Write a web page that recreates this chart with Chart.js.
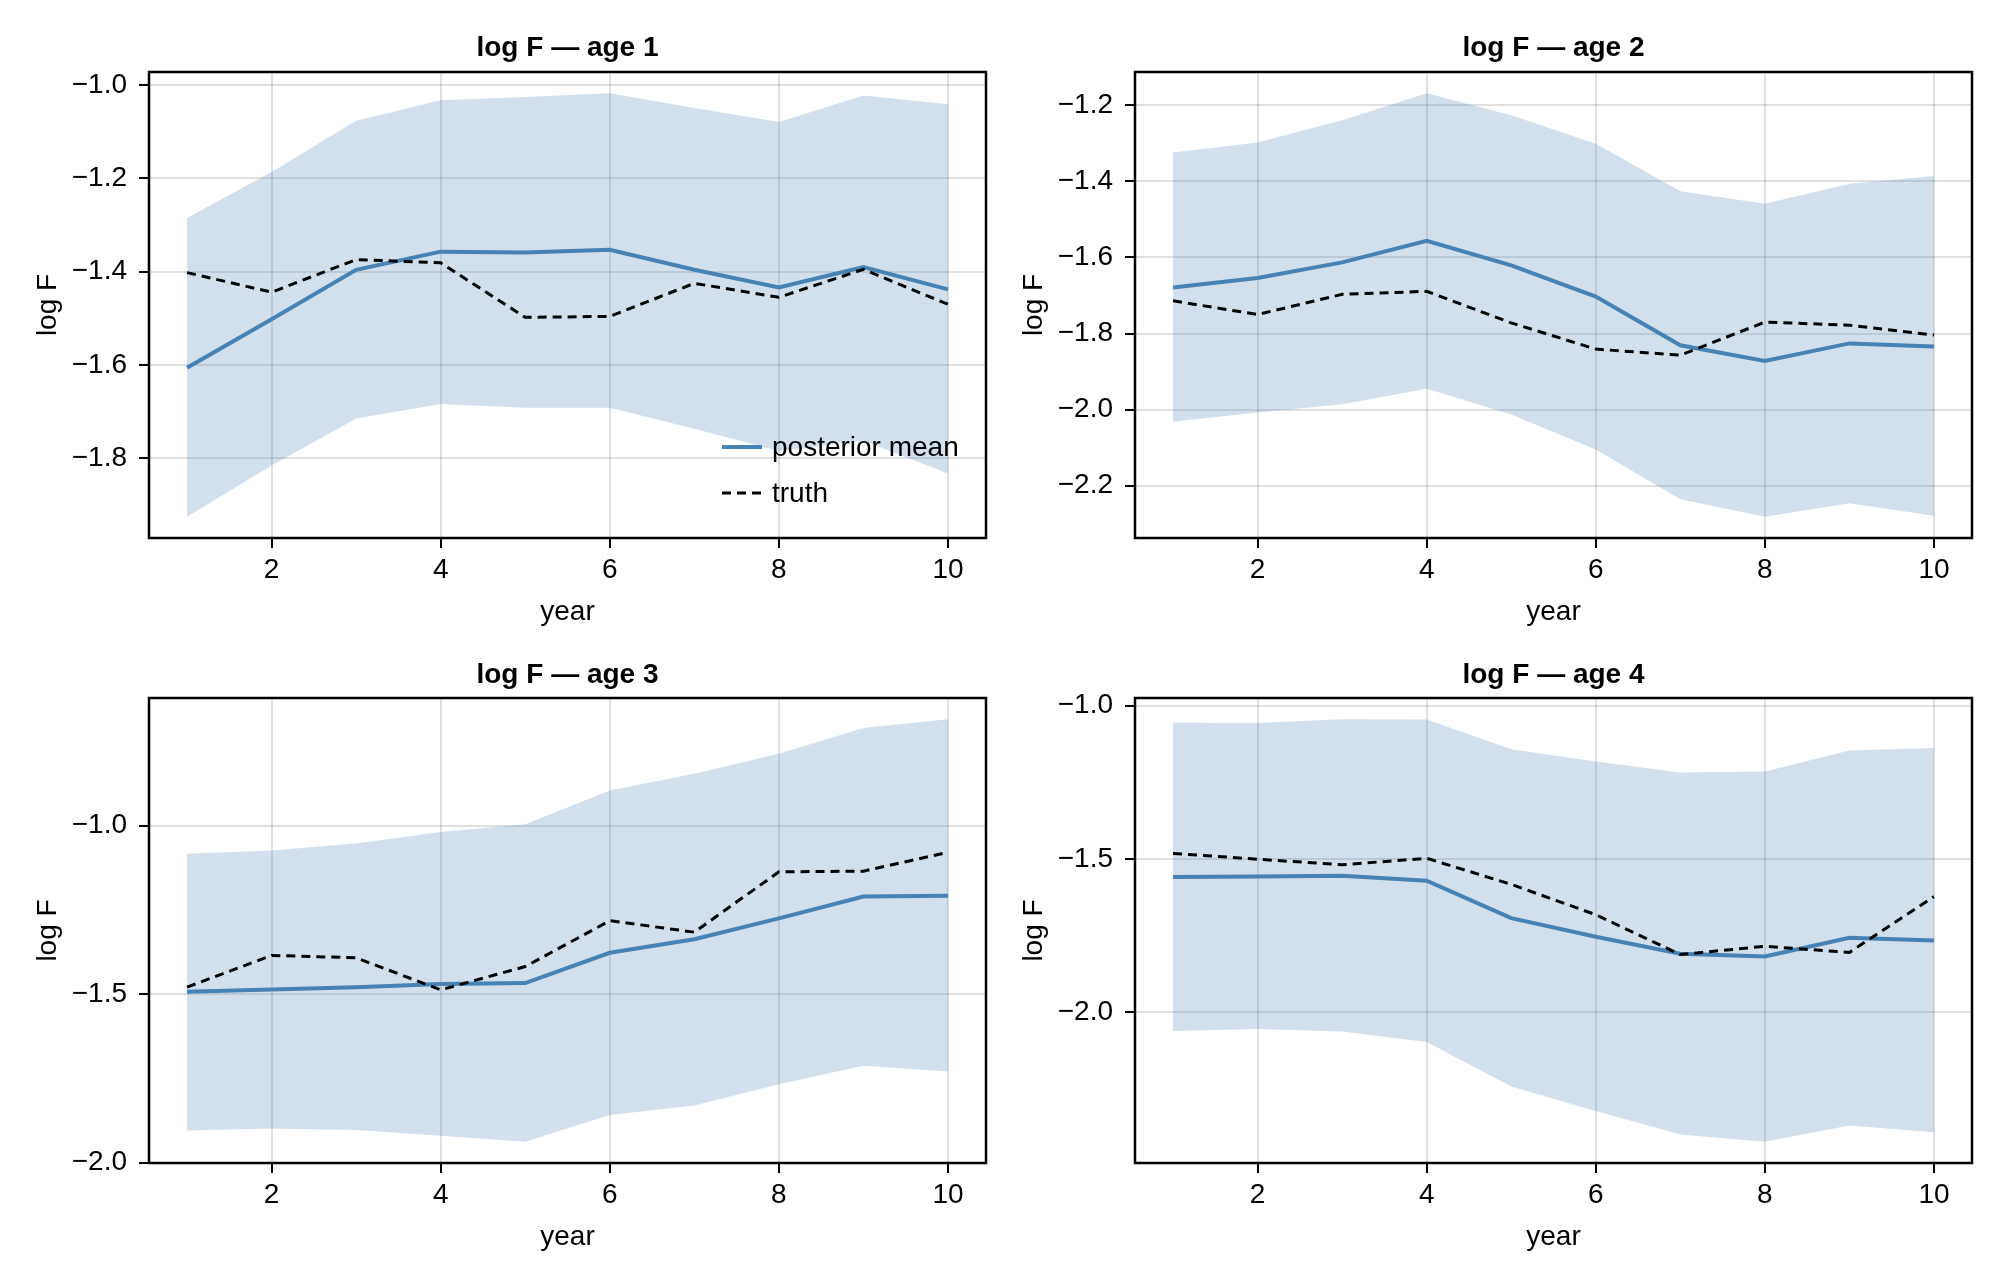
<!DOCTYPE html>
<html>
<head>
<meta charset="utf-8">
<script src="https://cdn.jsdelivr.net/npm/chart.js@4.4.1/dist/chart.umd.min.js"></script>
<style>
  html, body { margin: 0; padding: 0; background: #fff; }
  #wrap { position: relative; width: 2000px; height: 1280px; }
  .panel { position: absolute; width: 1000px; height: 640px; }
</style>
</head>
<body>
<div id="wrap">
  <div class="panel" style="left:0;top:0"><canvas id="c1" width="1000" height="640"></canvas></div>
  <div class="panel" style="left:1000px;top:0"><canvas id="c2" width="1000" height="640"></canvas></div>
  <div class="panel" style="left:0;top:640px"><canvas id="c3" width="1000" height="640"></canvas></div>
  <div class="panel" style="left:1000px;top:640px"><canvas id="c4" width="1000" height="640"></canvas></div>
</div>
<script>
const years = [1, 2, 3, 4, 5, 6, 7, 8, 9, 10];
const xTicks = [2, 4, 6, 8, 10];

// age 1
const mean1  = [-1.606, -1.502, -1.396, -1.357, -1.359, -1.353, -1.396, -1.434, -1.390, -1.438];
const truth1 = [-1.402, -1.444, -1.374, -1.381, -1.498, -1.496, -1.425, -1.455, -1.395, -1.470];
const upper1 = [-1.285, -1.186, -1.076, -1.032, -1.025, -1.017, -1.049, -1.079, -1.022, -1.041];
const lower1 = [-1.926, -1.816, -1.715, -1.684, -1.692, -1.692, -1.737, -1.785, -1.763, -1.833];
const yTicks1 = [-1.8, -1.6, -1.4, -1.2, -1.0];

// age 2
const mean2  = [-1.679, -1.654, -1.613, -1.556, -1.621, -1.703, -1.831, -1.872, -1.826, -1.834];
const truth2 = [-1.714, -1.750, -1.697, -1.689, -1.772, -1.841, -1.857, -1.770, -1.778, -1.804];
const upper2 = [-1.324, -1.298, -1.239, -1.168, -1.226, -1.301, -1.426, -1.459, -1.406, -1.386];
const lower2 = [-2.032, -2.008, -1.986, -1.945, -2.013, -2.105, -2.236, -2.282, -2.246, -2.279];
const yTicks2 = [-2.2, -2.0, -1.8, -1.6, -1.4, -1.2];

// age 3
const mean3  = [-1.493, -1.486, -1.479, -1.470, -1.467, -1.377, -1.337, -1.275, -1.210, -1.208];
const truth3 = [-1.479, -1.385, -1.392, -1.487, -1.418, -1.282, -1.316, -1.137, -1.135, -1.079];
const upper3 = [-1.083, -1.074, -1.053, -1.019, -0.996, -0.896, -0.846, -0.787, -0.710, -0.684];
const lower3 = [-1.904, -1.898, -1.903, -1.920, -1.938, -1.858, -1.830, -1.767, -1.712, -1.729];
const yTicks3 = [-2.0, -1.5, -1.0];

// age 4
const mean4  = [-1.559, -1.557, -1.555, -1.571, -1.693, -1.754, -1.809, -1.818, -1.757, -1.766];
const truth4 = [-1.482, -1.501, -1.519, -1.498, -1.583, -1.682, -1.812, -1.785, -1.805, -1.623];
const upper4 = [-1.056, -1.057, -1.044, -1.045, -1.142, -1.182, -1.218, -1.215, -1.146, -1.138];
const lower4 = [-2.061, -2.055, -2.063, -2.097, -2.242, -2.322, -2.399, -2.423, -2.370, -2.392];
const yTicks4 = [-2.0, -1.5, -1.0];

const BLUE = '#4682b4';
const BAND = 'rgba(70,130,180,0.25)';
const FONT = "'Liberation Sans', Arial, Helvetica, sans-serif";
const FS = 28;
const HALF = FS * 1.2 / 2;

Chart.defaults.font.family = FONT;
Chart.defaults.font.size = FS;
Chart.defaults.color = '#000';

function fmt(v) {
  return (v < 0 ? '\u2212' : '') + Math.abs(v).toFixed(1);
}

function pts(arr) {
  return years.map((x, i) => ({ x: x, y: arr[i] }));
}

// black box around the plot area
const framePlugin = {
  id: 'frame',
  afterDatasetsDraw(chart) {
    const a = chart.chartArea;
    const ctx = chart.ctx;
    ctx.save();
    ctx.strokeStyle = '#000';
    ctx.lineWidth = 2.5;
    ctx.strokeRect(a.left, a.top, a.right - a.left, a.bottom - a.top);
    ctx.restore();
  }
};

// legend in the lower right corner of the plot
const innerLegend = {
  id: 'innerLegend',
  afterDatasetsDraw(chart, args, opts) {
    if (!opts.show) return;
    const a = chart.chartArea;
    const ctx = chart.ctx;
    const items = chart.data.datasets.filter(d => d.label);
    items.reverse();
    ctx.save();
    ctx.font = FS + 'px ' + FONT;
    ctx.textBaseline = 'middle';
    ctx.textAlign = 'left';
    items.forEach((d, i) => {
      const y = a.bottom - 91 + i * 46;
      ctx.beginPath();
      ctx.strokeStyle = d.borderColor;
      ctx.lineWidth = d.borderWidth;
      ctx.setLineDash(d.borderDash || []);
      ctx.moveTo(a.right - 264, y);
      ctx.lineTo(a.right - 224, y);
      ctx.stroke();
      ctx.setLineDash([]);
      ctx.fillStyle = '#000';
      ctx.fillText(d.label, a.right - 214, y + 1);
    });
    ctx.restore();
  }
};

function makeChart(id, title, mean, truth, lower, upper, yTicks, box, showLegend) {
  const all = mean.concat(truth, lower, upper);
  const lo = Math.min(...all), hi = Math.max(...all);
  const ypad = (hi - lo) * 0.05;
  const xpad = (years[years.length - 1] - years[0]) * 0.05;

  new Chart(document.getElementById(id), {
    type: 'line',
    data: {
      datasets: [
        { label: 'truth', data: pts(truth), borderColor: '#000', borderWidth: 3,
          borderDash: [9, 6], pointRadius: 0, fill: false, tension: 0 },
        { label: 'posterior mean', data: pts(mean), borderColor: BLUE, borderWidth: 4,
          pointRadius: 0, fill: false, tension: 0 },
        { label: '', data: pts(upper), borderWidth: 0, borderColor: 'rgba(0,0,0,0)',
          backgroundColor: BAND, pointRadius: 0, fill: '+1', tension: 0 },
        { label: '', data: pts(lower), borderWidth: 0, borderColor: 'rgba(0,0,0,0)',
          pointRadius: 0, fill: false, tension: 0 }
      ]
    },
    options: {
      responsive: false,
      animation: false,
      devicePixelRatio: 1,
      events: [],
      layout: {
        padding: { left: 0, top: 0, right: 1000 - box.right, bottom: 640 - box.bottom - 100 }
      },
      plugins: {
        legend: { display: false },
        tooltip: { enabled: false },
        innerLegend: { show: showLegend },
        title: {
          display: true,
          text: title,
          fullSize: false,
          font: { size: FS, weight: 'bold' },
          color: '#000',
          padding: { top: box.titleY - HALF, bottom: box.top - box.titleY - HALF }
        }
      },
      scales: {
        x: {
          type: 'linear',
          min: years[0] - xpad,
          max: years[years.length - 1] + xpad,
          afterBuildTicks: s => { s.ticks = xTicks.map(v => ({ value: v })); },
          afterFit: s => { s.height = 100; },
          grid: { color: 'rgba(0,0,0,0.12)', lineWidth: 2, tickColor: '#000',
                  tickLength: 10, tickWidth: 2 },
          border: { display: false },
          ticks: { padding: 32 - 10 - HALF, maxRotation: 0, callback: v => String(v) },
          title: { display: true, text: 'year', padding: { top: 0, bottom: 100 - 74 - HALF } }
        },
        y: {
          type: 'linear',
          min: lo - ypad,
          max: hi + ypad,
          afterBuildTicks: s => { s.ticks = yTicks.map(v => ({ value: v })); },
          afterFit: s => { s.width = box.left; },
          grid: { color: 'rgba(0,0,0,0.12)', lineWidth: 2, tickColor: '#000',
                  tickLength: 10, tickWidth: 2 },
          border: { display: false },
          ticks: { padding: 12, callback: v => fmt(v) },
          title: { display: true, text: 'log F',
                   padding: { top: box.left - 101 - HALF, bottom: 0 } }
        }
      }
    },
    plugins: [framePlugin, innerLegend]
  });
}

makeChart('c1', 'log F \u2014 age 1', mean1, truth1, lower1, upper1, yTicks1,
  { left: 149, right: 986, top: 72, bottom: 538, titleY: 48 }, true);
makeChart('c2', 'log F \u2014 age 2', mean2, truth2, lower2, upper2, yTicks2,
  { left: 135, right: 972, top: 72, bottom: 538, titleY: 48 }, false);
makeChart('c3', 'log F \u2014 age 3', mean3, truth3, lower3, upper3, yTicks3,
  { left: 149, right: 986, top: 58, bottom: 523, titleY: 35 }, false);
makeChart('c4', 'log F \u2014 age 4', mean4, truth4, lower4, upper4, yTicks4,
  { left: 135, right: 972, top: 58, bottom: 523, titleY: 35 }, false);
</script>
</body>
</html>
